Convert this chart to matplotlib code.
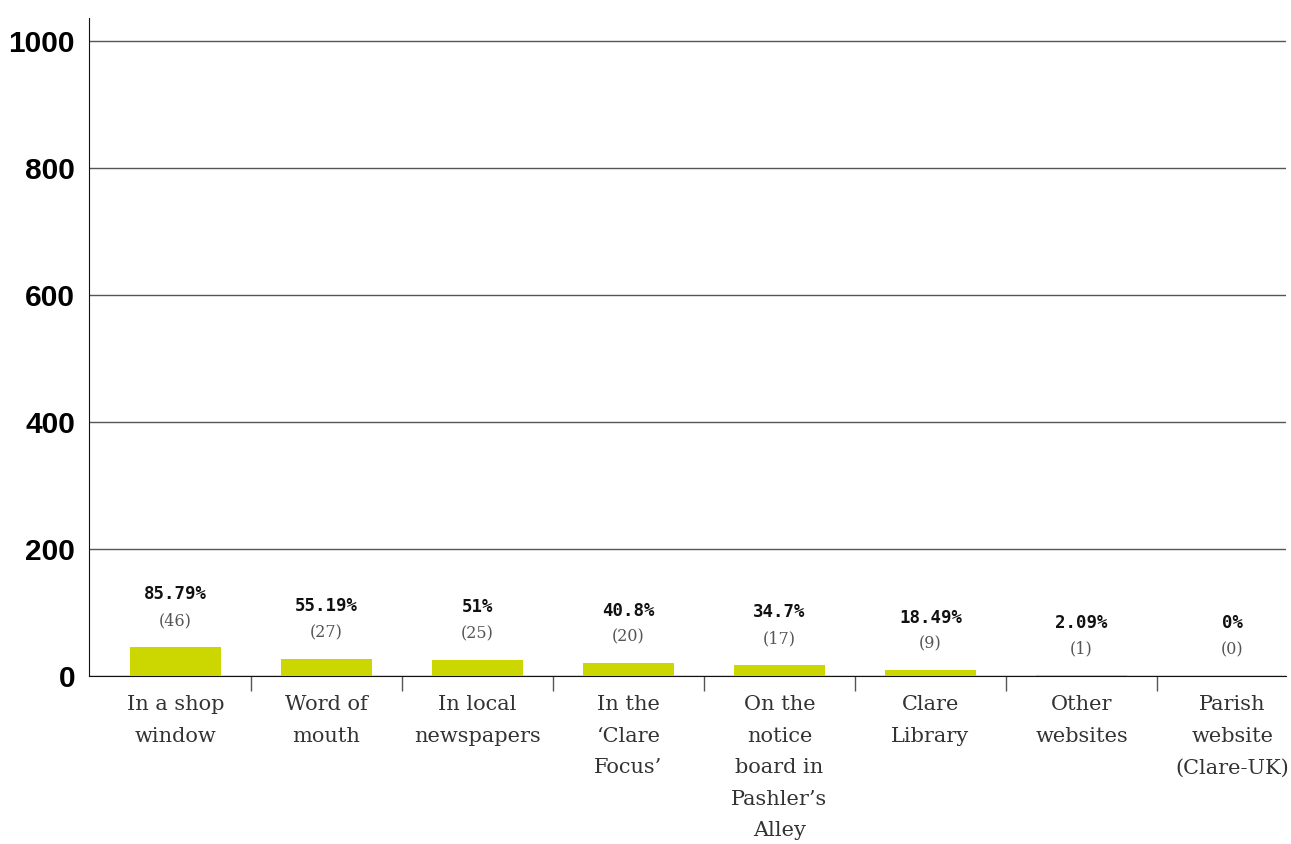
import numpy as np
from matplotlib import pyplot as plt

categories = ["In a shop\nwindow", "Word of\nmouth", "In local\nnewspapers",
              "In the\n\u2018Clare\nFocus\u2019", "On the\nnotice\nboard in\nPashler\u2019s\nAlley",
              "Clare\nLibrary", "Other\nwebsites", "Parish\nwebsite\n(Clare-UK)"]
counts = [46, 27, 25, 20, 17, 9, 1, 0]
percents = ["85.79%", "55.19%", "51%", "40.8%", "34.7%", "18.49%", "2.09%", "0%"]
yticks = [0, 200, 400, 600, 800, 1000]

fig = plt.figure(figsize=(12.91, 8.44), dpi=100)
ax = fig.add_axes([0.0689, 0.199, 0.9272, 0.7797])

x = np.arange(len(categories))
ax.bar(x, counts, width=0.6, color="#ccd600", zorder=3)

# percentage and count labels above each bar
for xi, c, p in zip(x, counts, percents):
    ax.annotate(p, (xi, c), xytext=(0, 38), textcoords="offset points",
                ha="center", va="center", fontsize=12.5, fontweight="bold",
                family="DejaVu Sans Mono", color="#111111")
    ax.annotate("(%d)" % c, (xi, c), xytext=(0, 19), textcoords="offset points",
                ha="center", va="center", fontsize=11.5, family="DejaVu Serif",
                color="#555555")

ax.set_ylim(0, 1036)
ax.set_xlim(-0.573, 7.354)
ax.set_yticks(yticks)
ax.set_yticklabels([str(v) for v in yticks], fontsize=21.5, fontweight="bold",
                   family="Liberation Sans")
ax.tick_params(axis="y", length=0, pad=10)
ax.grid(axis="y", color="#555555", linewidth=1, zorder=0)

ax.set_xticks(x)
ax.set_xticklabels(categories, fontsize=15, family="DejaVu Serif",
                   color="#333333", linespacing=1.83, va="top")
ax.set_xticks(x[:-1] + 0.5, minor=True)
ax.tick_params(axis="x", which="major", length=0, pad=14)
ax.tick_params(axis="x", which="minor", length=11, color="#555555", width=1)

for s in ["top", "right"]:
    ax.spines[s].set_visible(False)
ax.spines["left"].set_color("#111111")
ax.spines["bottom"].set_color("#111111")

fig.savefig("out.png", dpi=100)
